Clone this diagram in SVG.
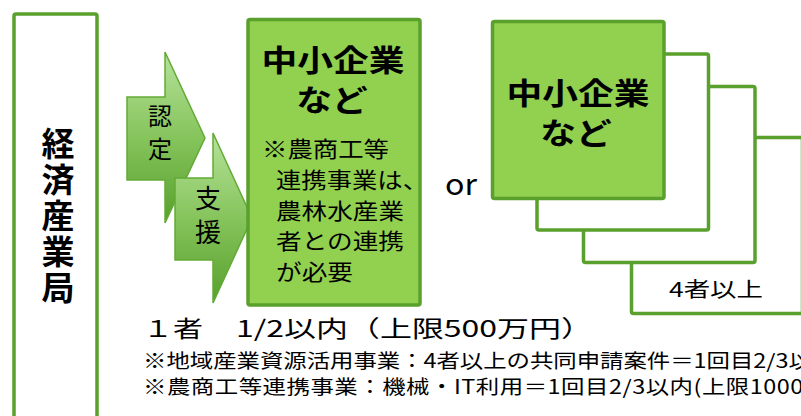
<svg xmlns="http://www.w3.org/2000/svg" width="801" height="416" viewBox="0 0 801 416">
<defs>
<linearGradient id="arrowGrad" x1="0" y1="0" x2="0" y2="1">
<stop offset="0" stop-color="#b6e29a"/>
<stop offset="0.5" stop-color="#86c45c"/>
<stop offset="1" stop-color="#58a02c"/>
</linearGradient>
<style>
.box{fill:#ffffff;stroke:#5aa02c;stroke-width:3.5;stroke-linejoin:round}
.gbox{fill:#92d050;stroke:#5aa02c;stroke-width:3.5;stroke-linejoin:round}
.arrow{fill:url(#arrowGrad);stroke:#62aa36;stroke-width:1.5;stroke-linejoin:miter}
text{font-family:"Noto Sans CJK JP","Noto Sans",sans-serif;fill:#000000}
.b{font-weight:bold}
.mid{text-anchor:middle}
.vert{writing-mode:vertical-rl;glyph-orientation-vertical:0}
</style>
</defs>
<rect width="801" height="416" fill="#ffffff"/>

<g id="bureau">
<rect class="box" x="14" y="14" width="83" height="430" rx="2"/>
<text class="b vert" font-size="33" x="58" y="126.5" letter-spacing="3.2">経済産業局</text>
</g>

<g id="connectors">
<g id="arrow-nintei">
<polygon class="arrow" points="127,97 165,97 165,52 205,138 165,223 165,180 127,180"/>
<text class="vert" font-size="24" x="160" y="104" letter-spacing="9">認定</text>
</g>
<g id="arrow-shien">
<polygon class="arrow" points="175,178 213,178 213,133 252,218 213,303 213,260 175,260"/>
<text class="vert" font-size="26" x="208" y="185.5" letter-spacing="8">支援</text>
</g>
</g>

<g id="sme-single">
<rect class="gbox" x="248" y="19.5" width="172" height="285.5" rx="2"/>
<text class="b mid" font-size="30" transform="translate(333,0) scale(1.19,1)"><tspan x="0" y="71.5">中小企業</tspan><tspan x="-0.8" y="111.5">など</tspan></text>
<text font-size="21.5" x="262" y="157" textLength="127" lengthAdjust="spacingAndGlyphs">※農商工等</text>
<text font-size="21.5" x="276" y="188" textLength="152" lengthAdjust="spacingAndGlyphs">連携事業は、</text>
<text font-size="21.5" x="276" y="219" textLength="128" lengthAdjust="spacingAndGlyphs">農林水産業</text>
<text font-size="21.5" x="276" y="249" textLength="128" lengthAdjust="spacingAndGlyphs">者との連携</text>
<text font-size="21.5" x="276" y="280" textLength="77" lengthAdjust="spacingAndGlyphs">が必要</text>
</g>

<text id="or" font-size="30" x="445" y="195" textLength="32" lengthAdjust="spacingAndGlyphs">or</text>

<g id="sme-group">
<rect class="box" x="631.5" y="137.5" width="171" height="176" rx="2"/>
<rect class="box" x="583.5" y="86.5" width="171.5" height="176" rx="2"/>
<rect class="box" x="537" y="54" width="171.5" height="176" rx="2"/>
<rect class="gbox" x="492.5" y="21.5" width="171.5" height="177" rx="2"/>
<text class="b mid" font-size="30" transform="translate(577,0) scale(1.19,1)"><tspan x="0.8" y="104">中小企業</tspan><tspan x="-0.8" y="144">など</tspan></text>
<text class="mid" font-size="20.5" x="716" y="297" textLength="94" lengthAdjust="spacingAndGlyphs">4者以上</text>
</g>

<g id="notes">
<text font-size="23" x="143" y="337" textLength="60" lengthAdjust="spacingAndGlyphs">１者</text>
<text font-size="23" x="236" y="337" textLength="357" lengthAdjust="spacingAndGlyphs">1/2以内（上限500万円）</text>
<text font-size="19.5" transform="translate(143,0) scale(1.2,1)"><tspan x="0" y="368">※地域産業資源活用事業：4者以上の共同申請案件＝1回目2/3以</tspan><tspan x="0" y="394" letter-spacing="0.45">※農商工等連携事業：機械・IT利用＝1回目2/3以内(上限1000</tspan></text>
</g>
</svg>
